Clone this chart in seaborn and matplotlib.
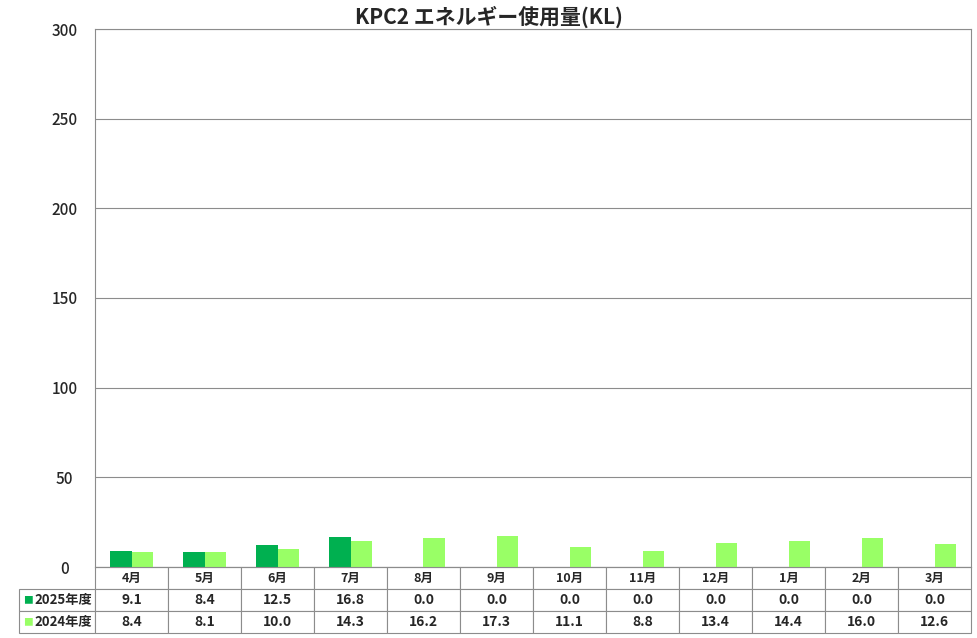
import matplotlib
matplotlib.use("Agg")
import matplotlib.pyplot as plt
import seaborn as sns
import pandas as pd

# --- DATA ---
MONTHS = ["4月", "5月", "6月", "7月", "8月", "9月", "10月", "11月", "12月", "1月", "2月", "3月"]
SERIES = ["2025年度", "2024年度"]
VALUES_2025 = [9.1, 8.4, 12.5, 16.8, 0.0, 0.0, 0.0, 0.0, 0.0, 0.0, 0.0, 0.0]
VALUES_2024 = [8.4, 8.1, 10.0, 14.3, 16.2, 17.3, 11.1, 8.8, 13.4, 14.4, 16.0, 12.6]
Y_TICKS = [0, 50, 100, 150, 200, 250, 300]
TITLE = "KPC2 エネルギー使用量(KL)"
COLORS = ["#00B050", "#99FF66"]

W, H = 977, 638
GRID_COLOR = "#8c8c8c"


def main():
    sns.set_theme(style="white")
    plt.rcParams['font.family'] = ['Noto Sans CJK JP', 'DejaVu Sans']

    df = pd.DataFrame({
        "month": MONTHS * 2,
        "series": [SERIES[0]] * len(MONTHS) + [SERIES[1]] * len(MONTHS),
        "value": VALUES_2025 + VALUES_2024,
    })

    fig = plt.figure(figsize=(W / 100, H / 100), dpi=100)
    # plot area in pixels: x 95..971, y 29..567
    left, right, top, bottom = 95, 971, 29, 567
    ax = fig.add_axes([left / W, (H - bottom) / H, (right - left) / W, (bottom - top) / H])

    sns.barplot(data=df, x="month", y="value", hue="series", order=MONTHS,
                hue_order=SERIES, palette=COLORS, width=0.58, saturation=1,
                linewidth=0, ax=ax, legend=False)

    ax.set_ylim(0, 300)
    ax.set_yticks(Y_TICKS)
    ax.set_xlim(-0.5, len(MONTHS) - 0.5)
    ax.yaxis.grid(True, color=GRID_COLOR, linewidth=0.8)
    ax.set_axisbelow(True)
    ax.tick_params(axis='y', length=0, pad=22, labelsize=11)
    ax.tick_params(axis='x', length=0, labelbottom=False)
    ax.set_xlabel("")
    ax.set_ylabel("")
    for s in ax.spines.values():
        s.set_color(GRID_COLOR)
        s.set_linewidth(0.8)
    for lbl in ax.get_yticklabels():
        lbl.set_ha("center")
        lbl.set_fontweight("medium")

    fig.text(0.5, 1 - 17 / H, TITLE, ha="center", va="center",
             fontsize=15, fontweight="bold")

    # data table below the plot
    pw, ph = right - left, bottom - top
    tbl_left, tbl_bottom = 19, 633
    cell_text = [[""] + MONTHS,
                 [""] + [f"{v:.1f}" for v in VALUES_2025],
                 [""] + [f"{v:.1f}" for v in VALUES_2024]]
    col_w = [76] + [73] * len(MONTHS)
    tot = sum(col_w)
    table = ax.table(cellText=cell_text, colWidths=[c / tot for c in col_w],
                     cellLoc="center",
                     bbox=[(tbl_left - left) / pw, -(tbl_bottom - bottom) / ph,
                           (right - tbl_left) / pw, (tbl_bottom - bottom) / ph])
    table.auto_set_font_size(False)
    for (r, c), cell in table.get_celld().items():
        cell.set_edgecolor(GRID_COLOR)
        cell.set_linewidth(0.8)
        cell.set_facecolor("white")
        cell.get_text().set_fontsize(9 if r == 0 else 10)
        cell.get_text().set_fontweight("bold")
        if r == 0 and c == 0:
            cell.visible_edges = ""

    row_centers = [600, 622]
    for name, color, yc in zip(SERIES, COLORS, row_centers):
        ya = -(yc - bottom) / ph
        ax.text((28 - left) / pw, ya, "■", color=color, ha="center", va="center",
                fontsize=7, transform=ax.transAxes, clip_on=False)
        ax.text((34 - left) / pw, ya, name, ha="left", va="center",
                fontsize=9.5, fontweight="bold", transform=ax.transAxes, clip_on=False)

    fig.savefig("out.png", dpi=100)
    plt.close(fig)


if __name__ == "__main__":
    main()
